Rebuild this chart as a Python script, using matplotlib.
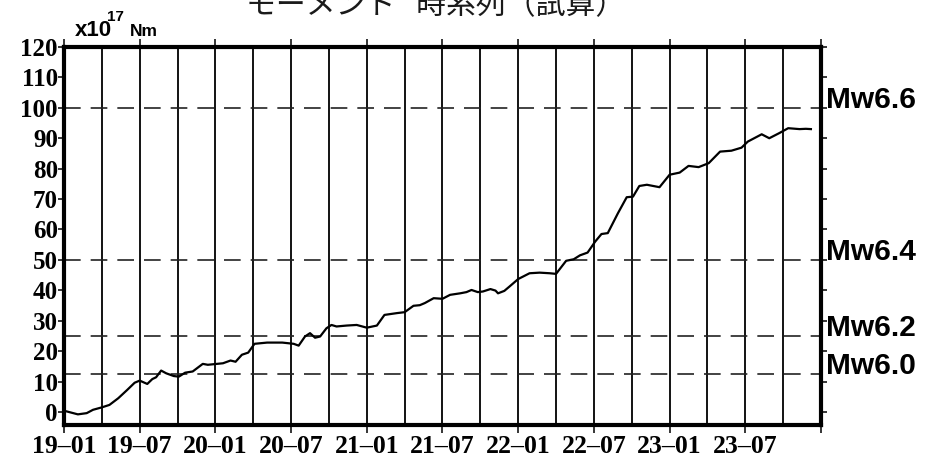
import matplotlib
matplotlib.use("Agg")
import matplotlib.pyplot as plt

# months since 2019-01 and cumulative moment (x10^17 Nm)
months = [0.0, 1.1, 1.8, 2.3, 3.0, 3.6, 4.3, 5.0, 5.6, 6.0,
          6.6, 7.0, 7.3, 7.7, 8.1, 8.7, 9.1, 9.6, 10.2, 11.0,
          11.4, 12.6, 13.2, 13.6, 14.1, 14.6, 15.1, 16.1, 17.3, 18.2,
          18.6, 19.1, 19.5, 19.9, 20.3, 20.8, 21.2, 21.6, 22.4, 23.2,
          24.0, 24.8, 25.4, 26.4, 27.0, 27.7, 28.2, 28.6, 29.3, 30.0,
          30.6, 31.4, 31.9, 32.3, 32.8, 33.2, 33.8, 34.2, 34.4, 34.9,
          35.3, 36.0, 36.9, 37.7, 38.5, 39.0, 39.8, 40.4, 40.9, 41.5,
          42.1, 42.6, 43.1, 43.9, 44.6, 45.1, 45.6, 46.2, 47.2, 48.0,
          48.8, 49.5, 50.3, 51.1, 52.0, 52.9, 53.7, 54.2, 55.3, 55.9,
          56.7, 57.4, 58.3, 58.8, 59.2]
moment = [0.4, -0.8, -0.4, 0.7, 1.5, 2.3, 4.5, 7.2, 9.6, 10.3,
          9.2, 10.8, 11.4, 13.6, 12.7, 11.8, 11.6, 12.9, 13.3, 15.8,
          15.5, 16.0, 16.9, 16.5, 18.8, 19.5, 22.4, 22.8, 22.8, 22.4,
          21.8, 24.8, 25.9, 24.4, 24.8, 27.5, 28.6, 28.1, 28.4, 28.6,
          27.7, 28.4, 31.9, 32.5, 32.8, 34.9, 35.1, 35.8, 37.4, 37.2,
          38.5, 39.0, 39.4, 40.1, 39.4, 39.6, 40.4, 39.9, 39.0, 39.8,
          41.2, 43.7, 45.6, 45.8, 45.6, 45.4, 49.7, 50.2, 51.5, 52.4,
          56.0, 58.5, 58.8, 65.3, 70.6, 70.8, 74.3, 74.7, 73.9, 78.0,
          78.7, 80.9, 80.5, 81.8, 85.6, 85.9, 86.9, 88.9, 91.3, 90.0,
          91.7, 93.3, 93.0, 93.1, 93.0]

xtick_pos = [0, 6, 12, 18, 24, 30, 36, 42, 48, 54, 60]
xtick_lab = ["19–01", "19–07", "20–01", "20–07", "21–01", "21–07",
             "22–01", "22–07", "23–01", "23–07", ""]
grid_months = list(range(3, 60, 3))
yticks = list(range(0, 121, 10))

# magnitude reference levels (x10^17 Nm)
mw_labels = ["Mw6.0", "Mw6.2", "Mw6.4", "Mw6.6"]
mw_values = [12.6, 25.1, 50.1, 100.0]

W, H = 925, 457
fig = plt.figure(figsize=(W / 100, H / 100), dpi=100)
ax = fig.add_axes([64 / W, 1 - 425 / H, 757 / W, 378 / H])

for m in grid_months:
    ax.axvline(m, color="black", lw=1.3, zorder=1)
for v in mw_values:
    ax.plot([0, 60], [v, v], color="#222222", lw=1.2, dashes=(10, 6), zorder=1)

ax.plot(months, moment, color="black", lw=1.6, zorder=3)

ax.set_xlim(0, 60)
ax.set_ylim(-4.3, 120)
for s in ax.spines.values():
    s.set_linewidth(3)

ax.set_xticks(xtick_pos)
ax.set_xticklabels(xtick_lab, family="Liberation Serif", fontweight="bold",
                   fontsize=18.5)
ax.set_yticks(yticks)
ax.set_yticklabels([str(y) for y in yticks], family="Liberation Serif",
                   fontweight="bold", fontsize=18)
ax.tick_params(axis="x", direction="out", length=6, width=1.1, pad=1.5,
               top=True, bottom=True)
ax.tick_params(axis="y", direction="out", length=4, width=1.1, pad=0.5,
               left=True, right=True)

# magnitude labels to the right of the frame
ytrans = ax.get_yaxis_transform()
for lab, v in zip(mw_labels, mw_values):
    ax.text(1.007, v, lab, transform=ytrans, va="baseline", ha="left",
            family="Liberation Sans", fontweight="bold", fontsize=21.5)

# unit label
fig.text(75 / W, 1 - 36 / H, "x10", family="Liberation Sans", fontweight="bold",
         fontsize=16, va="baseline", ha="left")
fig.text(107 / W, 1 - 21 / H, "17", family="Liberation Sans", fontweight="bold",
         fontsize=11, va="baseline", ha="left")
fig.text(130 / W, 1 - 36 / H, "Nm", family="Liberation Sans", fontweight="bold",
         fontsize=12.5, va="baseline", ha="left")

fig.text(436 / W, 1 - 14 / H, "モーメント* 時系列（試算）",
         family=["Noto Sans CJK JP", "DejaVu Sans"], fontsize=21.5,
         color="#1a1a1a", ha="center", va="baseline")

fig.savefig("out.png", dpi=100)
